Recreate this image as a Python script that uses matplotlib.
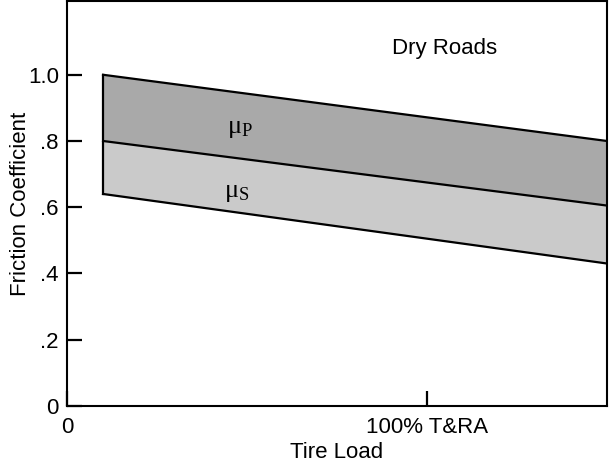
import matplotlib.pyplot as plt
import numpy as np

plt.rcParams['font.family'] = ['Liberation Sans', 'DejaVu Sans']
plt.rcParams['mathtext.fontset'] = 'custom'
plt.rcParams['mathtext.rm'] = 'Liberation Serif'
plt.rcParams['mathtext.it'] = 'Liberation Serif'

# tire load (% of T&RA rated load) at band ends
load = [10, 150]
mu_peak = [1.0, 0.80]      # upper edge of band
mu_mid = [0.80, 0.605]     # boundary between mu_p and mu_s
mu_slide = [0.64, 0.43]    # lower edge of band

yticks = [0, 0.2, 0.4, 0.6, 0.8, 1.0]
ytick_labels = ['0', '.2', '.4', '.6', '.8', '1.0']
xticks = [0, 100]
xtick_labels = ['0', '100% T&RA']

fig = plt.figure(figsize=(6.1, 4.66), dpi=100)
ax = fig.add_axes([0.110, 0.129, 0.885, 0.869])

ax.fill_between(load, mu_mid, mu_peak, color='#a9a9a9', lw=0)
ax.fill_between(load, mu_slide, mu_mid, color='#cacaca', lw=0)
for ys in (mu_peak, mu_mid, mu_slide):
    ax.plot(load, ys, color='black', lw=1.6)
ax.plot([load[0], load[0]], [mu_slide[0], mu_peak[0]], color='black', lw=1.6)

ax.text(48, 0.84, r'$\mathrm{\mu_P}$', fontsize=19, ha='center', va='center')
ax.text(47, 0.645, r'$\mathrm{\mu_S}$', fontsize=19, ha='center', va='center')
ax.text(105, 1.08, 'Dry Roads', fontsize=16, ha='center', va='center')

ax.set_xlim(0, 150)
ax.set_ylim(0, 1.223)
ax.set_yticks(yticks)
ax.set_yticklabels(ytick_labels, fontsize=16)
ax.set_xticks(xticks)
ax.set_xticklabels(xtick_labels, fontsize=16)
ax.tick_params(direction='in', length=11, width=1.6, pad=6)
ax.tick_params(axis='x', pad=8)
ax.set_ylabel('Friction Coefficient', fontsize=16, labelpad=-2)
ax.set_xlabel('Tire Load', fontsize=16, labelpad=3)
for s in ax.spines.values():
    s.set_linewidth(1.5)

fig.savefig('out.png', dpi=100)
